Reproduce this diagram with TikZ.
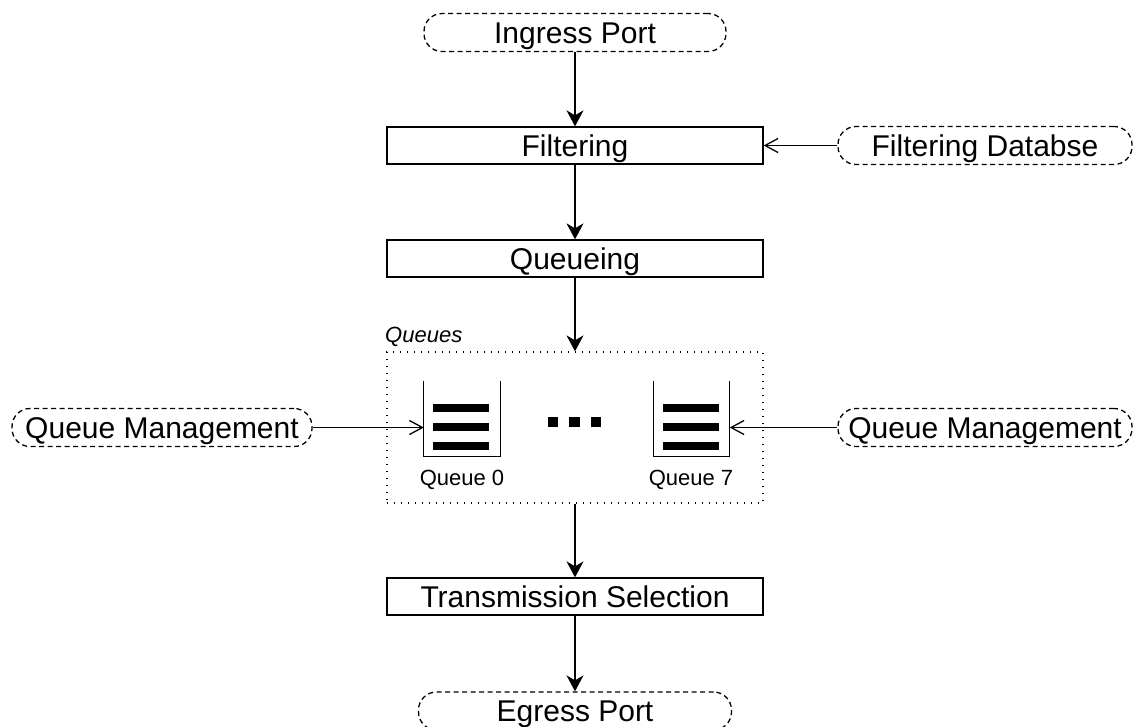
\documentclass[tikz,border=0pt]{standalone}
\usepackage{fontspec}
\setmainfont{Liberation Sans}
\usetikzlibrary{arrows.meta}

\tikzset{
  lw/.style={line width=1.3pt},
  stagebox/.style={draw, lw, rectangle, inner sep=0pt, minimum width=376pt,
    minimum height=37pt, text height=21.5pt, text depth=0pt,
    font=\fontsize{30}{36}\selectfont},
  portbox/.style={draw, lw, dash pattern=on 5pt off 3.5pt, rectangle,
    rounded corners=18pt, inner sep=0pt, minimum height=38pt,
    text height=21.5pt, text depth=0pt, font=\fontsize{30}{36}\selectfont},
  groupbox/.style={draw, lw, dash pattern=on 1.4pt off 5.6pt, rectangle,
    inner sep=0pt, minimum width=376pt, minimum height=151pt},
  queueicon/.style={rectangle, inner sep=0pt, minimum width=76pt, minimum height=75pt},
  smalltext/.style={font=\fontsize{22}{26}\selectfont, inner sep=0pt},
  flow/.style={lw, -{Stealth[length=16pt,width=17pt,inset=5pt]}},
  feed/.style={lw, -{Straight Barb[length=13pt,width=14pt,line width=1.3pt]}},
  bar/.style={fill=black},
}

\begin{document}
\begin{tikzpicture}[x=1pt, y=-1pt]
  \clip (0,0) rectangle (1134,726);

  % pipeline stages
  \node[portbox, minimum width=302pt] (ing) at (575,32.5) {Ingress Port};
  \node[stagebox] (filt) at (575,145.5) {Filtering};
  \node[portbox, minimum width=294pt] (fdb) at (985,145.5) {Filtering Databse};
  \node[stagebox] (qing) at (575,258.5) {Queueing};
  \node[groupbox] (qs) at (575,427.5) {};
  \node[smalltext, anchor=base west, font=\fontsize{22}{26}\selectfont\itshape] (qslbl) at (385,342) {Queues};
  \node[stagebox] (trans) at (575,596.5) {Transmission Selection};
  \node[portbox, minimum width=313pt] (egr) at (575,711) {Egress Port};

  % queue management inputs
  \node[portbox, minimum width=300pt] (qml) at (162,427.5) {Queue Management};
  \node[portbox, minimum width=294pt] (qmr) at (985,427.5) {Queue Management};

  % queue 0
  \node[queueicon] (q0) at (462,418.5) {};
  \draw[lw] (q0.north west) -- (q0.south west) -- (q0.south east) -- (q0.north east);
  \foreach \y in {408,427,446}
    \fill[bar] (433,\y-3.6) rectangle (489,\y+3.6);
  \node[smalltext, anchor=base] (q0lbl) at (462,485) {Queue 0};

  % queue 7
  \node[queueicon] (q7) at (691.5,418.5) {};
  \draw[lw] (q7.north west) -- (q7.south west) -- (q7.south east) -- (q7.north east);
  \foreach \y in {408,427,446}
    \fill[bar] (663,\y-3.6) rectangle (719,\y+3.6);
  \node[smalltext, anchor=base] (q7lbl) at (691,485) {Queue 7};

  % ellipsis between queues
  \foreach \x [count=\i] in {553,574.5,596}
    \node[fill=black, minimum size=10.5pt, inner sep=0pt] (dot\i) at (\x,422) {};

  % connectors
  \draw[flow] (ing) -- (filt);
  \draw[flow] (filt) -- (qing);
  \draw[flow] (qing) -- (qs);
  \draw[flow] (qs) -- (trans);
  \draw[flow] (trans) -- (egr);
  \draw[feed] (fdb.west) -- (filt.east);
  \draw[feed] (qml.east) -- (qml.east -| q0.west);
  \draw[feed] (qmr.west) -- (qmr.west -| q7.east);
\end{tikzpicture}
\end{document}
